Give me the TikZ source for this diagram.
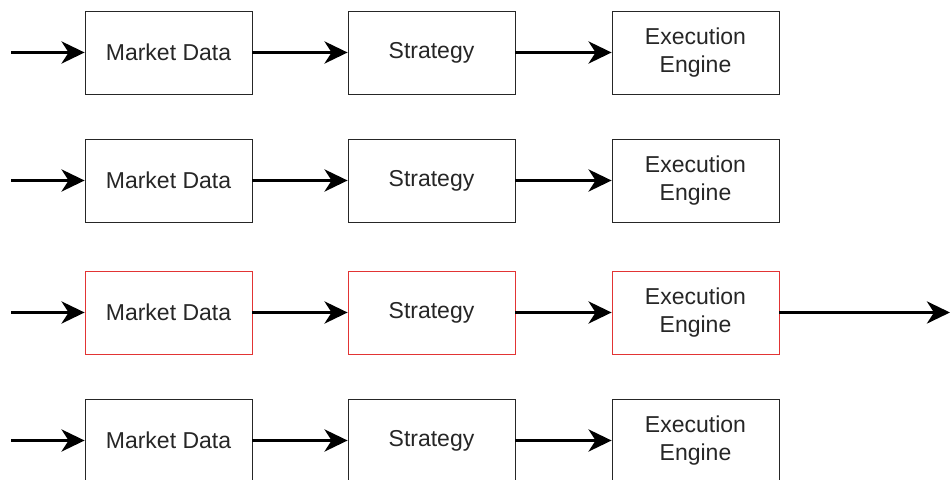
\documentclass[tikz,border=0pt]{standalone}
\usepackage{fontspec}
\setmainfont{Liberation Sans}
\usetikzlibrary{arrows.meta}
\definecolor{hotred}{RGB}{226,52,52}
\tikzstyle{block}=[draw=black!85,thin,fill=white,minimum width=83.5pt,minimum height=41.5pt,inner sep=0pt,align=center,text=black!85,font=\fontsize{11.5}{14}\selectfont]
\tikzstyle{redblock} = [block, draw=hotred]
\tikzstyle{flow} = [draw,line width=1.8pt,-{Stealth[length=11.5pt,width=11pt,inset=3.5pt]}]

\begin{document}
\begin{tikzpicture}[x=0.5pt,y=-0.5pt]
    \clip (0,0) rectangle (950,480);
    \useasboundingbox (0,0) rectangle (950,480);
    % Four pipelines, the third one is highlighted
    \foreach \y/\r/\sty in {52.5/1/block, 180.5/2/block, 312.5/3/redblock, 440.5/4/block} {
        \coordinate (in\r) at (11,\y);
        \node[\sty] (md\r) at (168.5,\y) {Market Data};
        \node[\sty] (st\r) at (431.5,\y) {Strategy};
        \node[\sty] (ex\r) at (695.5,\y) {Execution\\Engine};
        % Connect the blocks
        \path[flow] (in\r) -- (md\r);
        \path[flow] (md\r) -- (st\r);
        \path[flow] (st\r) -- (ex\r);
    }
    % Output of the highlighted pipeline
    \coordinate (out) at (950,312.5);
    \path[flow] (ex3) -- (out);
\end{tikzpicture}
\end{document}
